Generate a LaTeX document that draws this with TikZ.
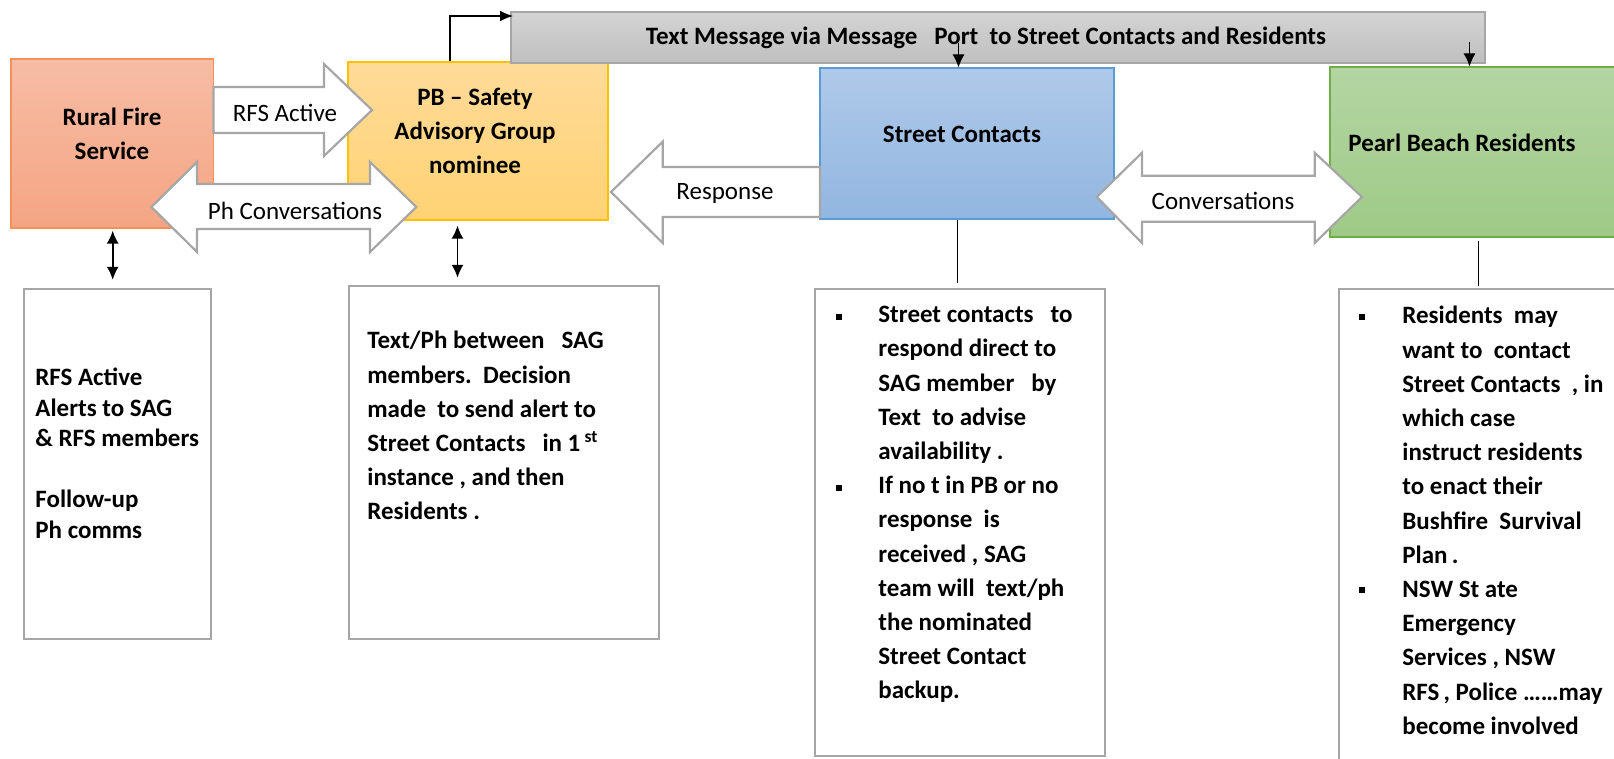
\documentclass[tikz,border=0pt]{standalone}
\usepackage{fontspec}
\setmainfont{Carlito}
\usepackage{xcolor}
\usepackage{tikz}
\usetikzlibrary{calc,arrows.meta}
\definecolor{rfstop}{HTML}{F7BCA5}
\definecolor{rfsbot}{HTML}{F4A583}
\definecolor{rfsline}{HTML}{F4915A}
\definecolor{pbtop}{HTML}{FFDB99}
\definecolor{pbbot}{HTML}{FFD273}
\definecolor{pbline}{HTML}{FFC000}
\definecolor{sctop}{HTML}{AFC9E9}
\definecolor{scbot}{HTML}{92B6E0}
\definecolor{scline}{HTML}{5B9BD5}
\definecolor{prtop}{HTML}{B4D5A3}
\definecolor{prbot}{HTML}{9ECA86}
\definecolor{prline}{HTML}{70AD47}
\definecolor{bartop}{HTML}{D4D4D4}
\definecolor{barbot}{HTML}{BFBFBF}
\definecolor{grey}{HTML}{A6A6A6}
\tikzset{
  box/.style={line width=0.6pt, inner sep=0pt},
  rfsbox/.style={box, draw=rfsline, top color=rfstop, bottom color=rfsbot},
  pbbox/.style={box, draw=pbline, top color=pbtop, bottom color=pbbot},
  scbox/.style={box, draw=scline, top color=sctop, bottom color=scbot},
  prbox/.style={box, draw=prline, top color=prtop, bottom color=prbot},
  barbox/.style={box, draw=grey, line width=0.9pt, top color=bartop, bottom color=barbot},
  note/.style={draw=grey, line width=1.2pt, fill=white, inner sep=0pt},
  blk/.style={draw=grey, line width=1.1pt, fill=white, line join=miter},
  ttl/.style={font=\fontsize{12.5}{17}\selectfont\bfseries, align=center, inner sep=0pt},
  lab/.style={font=\fontsize{12.5}{15}\selectfont, inner sep=0pt},
  body/.style={font=\fontsize{12.5}{17.1}\selectfont\bfseries, align=left, anchor=north west, inner sep=0pt},
  bul/.style={fill=black, inner sep=0pt, minimum size=2.6pt},
  tip/.style={-{Latex[length=6.5pt,width=5.5pt]}, line width=0.9pt},
  tipthin/.style={-{Latex[length=6.5pt,width=6pt]}, line width=0.5pt},
  both/.style={{Latex[length=6.5pt,width=6pt]}-{Latex[length=6.5pt,width=6pt]}, line width=0.9pt},
  link/.style={line width=0.5pt},
}

\begin{document}
\begin{tikzpicture}[x=0.5pt,y=-0.5pt]
  \useasboundingbox (0,0) rectangle (1614,759);
  \clip (0,0) rectangle (1614,759);

  \node[rfsbox, minimum width=101.25pt, minimum height=84.5pt] (rfs) at (112.25,143.5) {};
  \node[pbbox, minimum width=130pt, minimum height=79pt] (pb) at (478,141) {};
  \node[barbox, minimum width=487pt, minimum height=25.5pt] (bar) at (998,37.5) {};
  \node[scbox, minimum width=147pt, minimum height=75.5pt] (sc) at (967,143.5) {};
  \node[prbox, minimum width=145pt, minimum height=85pt] (pr) at (1475,152) {};

  \node[ttl] (rfsname) at (112,134) {Rural Fire\\Service};
  \node[ttl] (pbname) at (475,131) {PB – Safety\\Advisory Group\\nominee};
  \node[ttl] (scname) at (962,134) {Street Contacts};
  \node[ttl, anchor=west] (prname) at (1348,143) {Pearl Beach Residents};
  \node[ttl] (barname) at (986,38) {Text Message via Message~~~Port~~to Street Contacts and Residents};

  \coordinate (pbtap) at (450,0);
  \coordinate (barin) at (513,16);
  \draw[tip] (pb.north -| pbtap) |- (barin);
  \coordinate (scdrop) at (958.5,43);
  \coordinate (prdrop) at (1469.5,42);
  \draw[tipthin] (scdrop) -- (sc.north -| scdrop);
  \draw[tipthin] (prdrop) -- (pr.north -| prdrop);

  \draw[blk] (213.5,87) -- (324,87) -- (324,64) -- (372,110) -- (324,156) -- (324,133) -- (213.5,133) -- cycle;
  \draw[blk] (151.4,207) -- (197,162) -- (197,184) -- (370,184) -- (370,162) -- (416.4,207)
    -- (370,252) -- (370,229) -- (197,229) -- (197,252) -- cycle;
  \draw[blk] (611,192) -- (662.7,141.7) -- (662.7,167) -- (820,167) -- (820,217) -- (662.7,217) -- (662.7,243) -- cycle;
  \draw[blk] (1096.8,197) -- (1142,152.7) -- (1142,175.7) -- (1314.7,175.7) -- (1314.7,152.7) -- (1362,197)
    -- (1314.7,243) -- (1314.7,221.7) -- (1142,221.7) -- (1142,243) -- cycle;
  \node[lab] (rfsact) at (285,113) {RFS Active};
  \node[lab] (phconv) at (295,211) {Ph Conversations};
  \node[lab] (resp) at (725,193) {Response};
  \node[lab] (conv) at (1223,201) {Conversations};

  \node[note, minimum width=93.5pt, minimum height=175pt] (rfsnote) at (117.5,464) {};
  \node[note, minimum width=155pt, minimum height=176.5pt] (pbnote) at (504,462.5) {};
  \node[note, minimum width=145pt, minimum height=233.5pt] (scnote) at (960,522.5) {};
  \node[note, minimum width=140.5pt, minimum height=245.5pt] (prnote) at (1479.5,534.5) {};

  \coordinate (rfsx) at (112.7,0);
  \coordinate (pbx) at (457.5,0);
  \coordinate (scx) at (957.7,0);
  \coordinate (prx) at (1478,0);
  \draw[both, shorten <=1pt, shorten >=4pt] (rfs.south -| rfsx) -- (rfsnote.north -| rfsx);
  \draw[both, shorten <=2.5pt, shorten >=3.5pt] (pb.south -| pbx) -- (pbnote.north -| pbx);
  \draw[link, shorten >=2.5pt] (sc.south -| scx) -- (scnote.north -| scx);
  \draw[link, shorten <=1.5pt, shorten >=1pt] (pr.south -| prx) -- (prnote.north -| prx);

  \node[body, font=\fontsize{12.5}{15.25}\selectfont\bfseries] (rfstxt) at (35,368)
    {RFS Active\\Alerts to SAG\\\& RFS members\\[15.25pt]Follow-up\\Ph comms};
  \node[body] (pbtxt) at (367,331)
    {Text/Ph between~~~SAG\\members.~~Decision\\made~~to send alert to\\Street Contacts~~~in 1\,\textsuperscript{st}\\instance , and then\\Residents .};
  \node[body] (sctxt) at (878,306)
    {Street contacts~~~to\\respond direct to\\SAG member~~~by\\Text~~to advise\\availability .\\If no t in PB or no\\response~~is\\received , SAG\\team will~~text/ph\\the nominated\\Street Contact\\backup.};
  \node[body] (prtxt) at (1402,306)
    {Residents~~may\\want to~~contact\\Street Contacts~~, in\\which case\\instruct residents\\to enact their\\Bushfire~~Survival\\Plan\,.\\NSW St ate\\Emergency\\Services , NSW\\RFS\,, Police ……may\\become involved};
  \node[bul] (scb1) at (839,317) {};
  \node[bul] (scb2) at (839,488) {};
  \node[bul] (prb1) at (1362,317) {};
  \node[bul] (prb2) at (1362,590) {};
\end{tikzpicture}
\end{document}
